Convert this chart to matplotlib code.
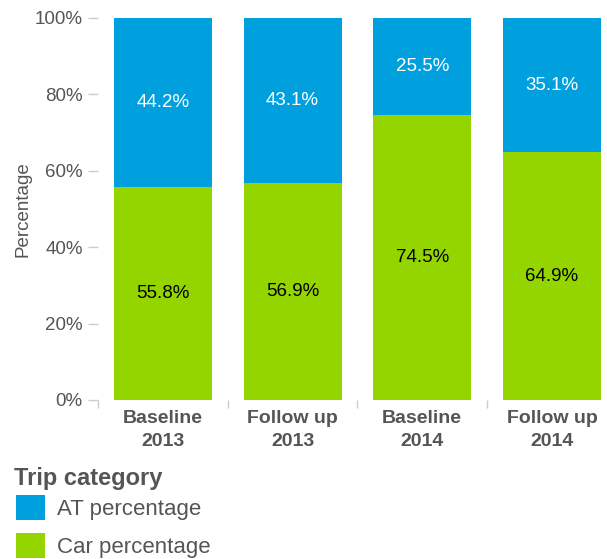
import matplotlib
matplotlib.use("Agg")
import matplotlib.pyplot as plt
from matplotlib.patches import Patch
import numpy as np

categories = ["Baseline\n2013", "Follow up\n2013", "Baseline\n2014", "Follow up\n2014"]
car_pct = [55.8, 56.9, 74.5, 64.9]
at_pct = [44.2, 43.1, 25.5, 35.1]
yticks = [0, 20, 40, 60, 80, 100]
series_names = ["AT percentage", "Car percentage"]
legend_title = "Trip category"

blue = "#00A0DF"
green = "#94D500"
grey = "#555555"
tickgrey = "#CCCCCC"

plt.rcParams['font.family'] = ['Liberation Sans', 'DejaVu Sans']

W, H = 607, 559
fig = plt.figure(figsize=(W / 100, H / 100), dpi=100)
left_px, right_px, top_px, bot_px = 98, 607, 18, 400
ax = fig.add_axes([left_px / W, 1 - bot_px / H, (right_px - left_px) / W, (bot_px - top_px) / H])

x = np.arange(len(categories))
width = 0.755
ax.bar(x, car_pct, width, color=green, zorder=2)
ax.bar(x, at_pct, width, bottom=car_pct, color=blue, zorder=2)

for xi, c, a in zip(x, car_pct, at_pct):
    ax.text(xi, c / 2, f"{c:.1f}%", ha="center", va="center", color="black", fontsize=13.5)
    ax.text(xi, c + a / 2, f"{a:.1f}%", ha="center", va="center", color="white", fontsize=13.5)

spacing = 129.7
xmax = -0.5 + (right_px - left_px) / spacing
ax.set_xlim(-0.5, xmax)
ax.set_ylim(0, 100)

for s in ax.spines.values():
    s.set_visible(False)

ax.set_yticks(yticks)
ax.set_yticklabels([f"{v}%" for v in yticks], fontsize=13.5, color=grey)
ax.tick_params(axis="y", length=7, width=1, color=tickgrey, pad=4)

ax.set_xticks(x)
ax.set_xticklabels(categories, fontsize=14, fontweight="bold", color=grey, linespacing=1.45)
ax.tick_params(axis="x", which="major", length=0, pad=7)
ax.set_xticks(np.arange(len(categories)) - 0.5, minor=True)
ax.tick_params(axis="x", which="minor", length=6, width=1, color=tickgrey, direction="out")

ax.set_ylabel("Percentage", fontsize=13.5, color=grey, labelpad=2)

fig.text(14 / W, 1 - 478 / H, legend_title, fontsize=17, fontweight="bold", color=grey,
         ha="left", va="center")

handles = [Patch(facecolor=blue), Patch(facecolor=green)]
leg = fig.legend(handles, series_names, loc="upper left",
                 bbox_to_anchor=(16 / W, 1 - 495.5 / H), frameon=False,
                 fontsize=16, handlelength=1.3, handleheight=1.3,
                 handletextpad=0.55, labelspacing=0.6, borderaxespad=0, borderpad=0.0)
for t in leg.get_texts():
    t.set_color(grey)

fig.savefig("out.png", dpi=100)
